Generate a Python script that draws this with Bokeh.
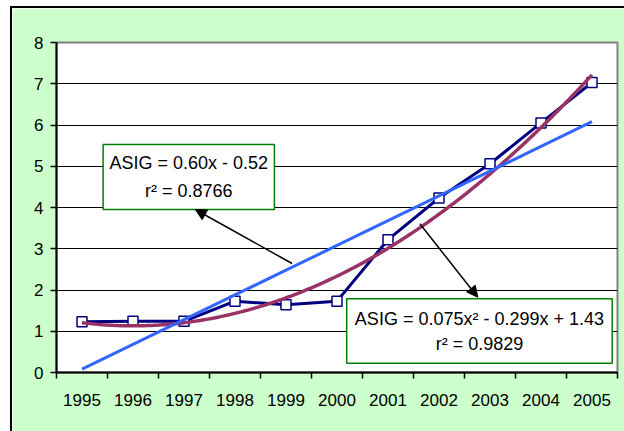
from bokeh.plotting import figure
from bokeh.models import (Range1d, FixedTicker, Arrow, NormalHead,
                          ColumnDataSource, Div)
from bokeh.layouts import column, row
from bokeh.embed import file_html
from bokeh.resources import INLINE
import numpy as np

# ---- data -------------------------------------------------------------
years = ["1995", "1996", "1997", "1998", "1999", "2000",
         "2001", "2002", "2003", "2004", "2005"]
asig = [1.23, 1.24, 1.24, 1.73, 1.64, 1.73, 3.22, 4.23, 5.06, 6.05, 7.03]

# trend line coefficients (x = 1 .. 11 for the years)
lin_coef = [0.60, -0.52]            # ASIG = 0.60x - 0.52
lin_r2 = "0.8766"
poly_coef = [0.075, -0.299, 1.43]   # ASIG = 0.075x² - 0.299x + 1.43
poly_r2 = "0.9829"

y_ticks = [0, 1, 2, 3, 4, 5, 6, 7, 8]

# ---- derived ----------------------------------------------------------
xi = np.arange(1, len(years) + 1)
x_fine = np.linspace(1, len(years), 200)
lin_y = np.polyval(lin_coef, xi)
poly_y = np.polyval(poly_coef, x_fine)

FONT = "Liberation Sans"
GREEN_BG = "#CCFFCC"

p = figure(width=612, height=423, output_backend="svg", toolbar_location=None,
           x_range=Range1d(0.5, len(years) + 0.5), y_range=Range1d(0, 8),
           min_border_left=44, min_border_right=7,
           min_border_top=34, min_border_bottom=59)
p.border_fill_color = GREEN_BG
p.background_fill_color = "white"
p.outline_line_color = "#808080"
p.outline_line_width = 2

# x axis: labels at category centres, tick marks at category boundaries
p.xaxis.ticker = FixedTicker(ticks=list(xi),
                             minor_ticks=[i + 0.5 for i in range(len(years) + 1)])
p.xaxis.major_label_overrides = {int(i): y for i, y in zip(xi, years)}
p.xaxis.major_tick_line_color = None
p.xaxis.major_tick_out = 6
p.xaxis.major_tick_in = 0
p.xaxis.minor_tick_line_color = "black"
p.xaxis.minor_tick_line_width = 1.5
p.xaxis.minor_tick_out = 6
p.xaxis.minor_tick_in = 0
p.xaxis.major_label_standoff = 15

p.yaxis.ticker = FixedTicker(ticks=y_ticks)
p.yaxis.major_tick_out = 6
p.yaxis.major_tick_in = 0
p.yaxis.major_tick_line_width = 1.5
p.yaxis.minor_tick_line_color = None
p.yaxis.major_label_standoff = 7

for ax in (p.xaxis, p.yaxis):
    ax.axis_line_color = "black"
    ax.axis_line_width = 2
    ax.major_label_text_font = FONT
    ax.major_label_text_font_size = "17px"
    ax.major_label_text_color = "black"

p.xgrid.grid_line_color = None
p.ygrid.ticker = FixedTicker(ticks=y_ticks[1:-1])
p.ygrid.grid_line_color = "black"
p.ygrid.grid_line_width = 1

# ---- series -----------------------------------------------------------
src = ColumnDataSource(dict(x=xi, y=asig))
p.line("x", "y", source=src, line_color="#000080", line_width=3)
p.scatter("x", "y", source=src, marker="square", size=10,
          fill_color="white", line_color="#000080", line_width=1.5)

# trend lines
p.line(x_fine, poly_y, line_color="#993366", line_width=3.5)
p.line(xi, lin_y, line_color="#3366FF", line_width=3)

# ---- equation boxes ---------------------------------------------------
boxes = dict(left=[1.414, 6.19], right=[4.773, 11.396],
             top=[5.527, 1.787], bottom=[3.952, 0.225])
p.quad(source=ColumnDataSource(boxes), left="left", right="right", top="top",
       bottom="bottom", fill_color="white", line_color="#008000", line_width=1.5)

lin_txt = "ASIG = %.2fx - %.2f" % (lin_coef[0], -lin_coef[1])
poly_txt = "ASIG = %.3fx² - %.3fx + %.2f" % (poly_coef[0], -poly_coef[1], poly_coef[2])
labels = dict(x=[3.093, 3.093, 8.793, 8.793],
              y=[5.067, 4.412, 1.309, 0.703],
              t=[lin_txt, "r² = " + lin_r2, poly_txt, "r² = " + poly_r2])
p.text(x="x", y="y", text="t", source=ColumnDataSource(labels),
       text_align="center", text_baseline="middle",
       text_font={"value": FONT}, text_font_size="18px", text_color="black")

# arrows pointing from the trend lines to their equations
for xs, ys, xe, ye in [(5.119, 2.642, 3.221, 3.952), (7.625, 3.605, 8.76, 1.825)]:
    p.add_layout(Arrow(x_start=xs, y_start=ys, x_end=xe, y_end=ye,
                       line_color="black", line_width=1.5,
                       end=NormalHead(size=11, fill_color="black",
                                      line_color="black", line_width=1)))

# ---- outer chart frame: white margin, then a black edge on top and left --
def block(w, h, color):
    return Div(text="", width=w, height=h,
               styles={"background-color": color, "margin": "0", "padding": "0"})

chart = column(
    block(624, 6, "white"),
    row(block(10, 425, "white"),
        block(2, 425, "black"),
        column(block(612, 2, "black"), p, spacing=0),
        spacing=0),
    spacing=0,
)

open("out.html", "w").write(file_html(chart, INLINE))
